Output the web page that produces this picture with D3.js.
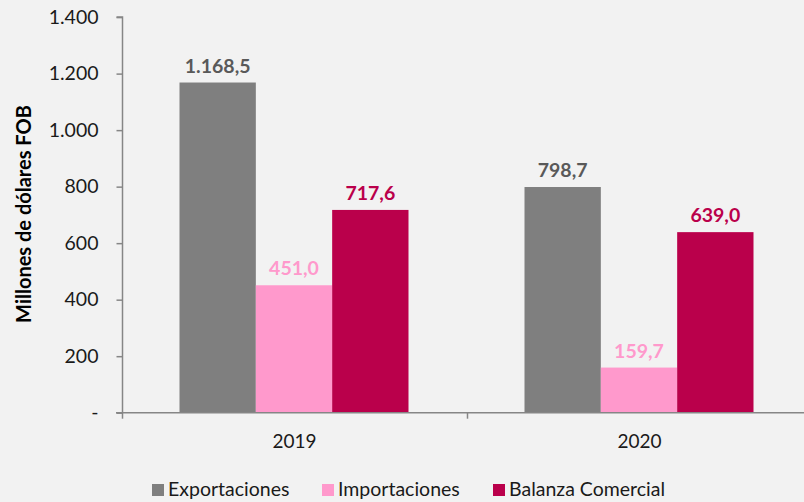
<!DOCTYPE html>
<html><head><meta charset="utf-8">
<script src="https://cdn.jsdelivr.net/npm/d3@7"></script>
<style>body{margin:0;background:#f2f2f2;}svg{display:block;font-family:Lato,"Open Sans",sans-serif;}</style>
</head><body><svg id="c" width="804" height="502"></svg>
<script>
const years = ["2019", "2020"];
const seriesNames = ["Exportaciones", "Importaciones", "Balanza Comercial"];
const exportaciones = [1168.5, 798.7];
const importaciones = [451.0, 159.7];
const balanza = [717.6, 639.0];
const yTicks = [0, 200, 400, 600, 800, 1000, 1200, 1400];
const yTickLabels = ["-", "200", "400", "600", "800", "1.000", "1.200", "1.400"];
const barColors = ["#7f7f7f", "#ff99cc", "#ba004b"];
const labelColors = ["#595959", "#ff99cc", "#ba004b"];

const seriesVals = [exportaciones, importaciones, balanza];
const fmt = v => {
  const s = v.toFixed(1).split(".");
  const int = s[0].replace(/\B(?=(\d{3})+(?!\d))/g, ".");
  return int + "," + s[1];
};

const svg = d3.select("#c");
svg.append("rect").attr("width",804).attr("height",502).attr("fill","#f2f2f2");

const y = d3.scaleLinear().domain([0,1400]).range([412.7,17.1]);
const x0 = d3.scaleBand().domain(years).range([122,812]).padding(0);
const x1 = d3.scaleBand().domain(seriesNames).range([57.5, 286.5]).padding(0);
const axisColor = "#868686";

// bars
years.forEach((yr,i)=>{
  const g = svg.append("g").attr("transform",`translate(${x0(yr)},0)`);
  seriesNames.forEach((s,j)=>{
    const v = seriesVals[j][i];
    g.append("rect").attr("x",x1(s)).attr("y",y(v)).attr("width",x1.bandwidth()).attr("height",y(0)-y(v)).attr("fill",barColors[j]);
    g.append("text").attr("x",x1(s)+x1.bandwidth()/2).attr("y",y(v)-10)
      .attr("text-anchor","middle").attr("font-size",19.5).attr("font-weight","bold")
      .attr("fill",labelColors[j]).text(fmt(v));
  });
});

// y axis
const yAxis = svg.append("g").attr("transform","translate(122.5,0)")
  .call(d3.axisLeft(y).tickValues(yTicks).tickFormat((d,i)=>yTickLabels[i]).tickSize(6).tickPadding(18));
yAxis.select(".domain").attr("stroke",axisColor).attr("stroke-width",1.5).attr("d","M-6,17.1H0V412.7");
yAxis.selectAll(".tick line").attr("stroke",axisColor).attr("stroke-width",1.5);
yAxis.selectAll(".tick text").attr("font-size",19.5).attr("fill","#1a1a1a").attr("font-family","Lato,sans-serif");

// x axis
const xAxis = svg.append("g").attr("transform","translate(0,412.7)");
xAxis.append("line").attr("x1",116).attr("x2",804).attr("y1",0).attr("y2",0).attr("stroke",axisColor).attr("stroke-width",1.5);
years.forEach(yr=>{
  xAxis.append("line").attr("x1",x0(yr)+0.5).attr("x2",x0(yr)+0.5).attr("y1",0).attr("y2",6).attr("stroke",axisColor).attr("stroke-width",1.5);
  xAxis.append("text").attr("x",x0(yr)+x0.bandwidth()/2).attr("y",35).attr("text-anchor","middle")
    .attr("font-size",19).attr("fill","#1a1a1a").text(yr);
});

// y title
svg.append("text").attr("transform","translate(31,214) rotate(-90)").attr("text-anchor","middle")
  .attr("font-size",20).attr("font-weight","bold").attr("fill","#000").text("Millones de dólares FOB");

// legend
const legX = [152, 322, 493];
seriesNames.forEach((s,j)=>{
  svg.append("rect").attr("x",legX[j]).attr("y",484).attr("width",12).attr("height",12).attr("fill",barColors[j]);
  svg.append("text").attr("x",legX[j]+16).attr("y",496).attr("font-size",19.5).attr("fill","#1a1a1a").text(s);
});
</script></body></html>
